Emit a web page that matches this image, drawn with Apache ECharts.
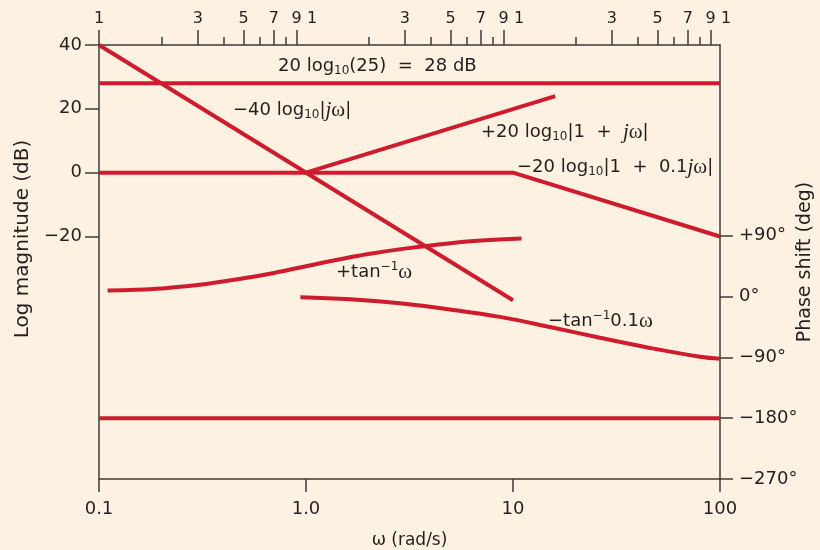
<!DOCTYPE html>
<html>
<head>
<meta charset="utf-8">
<script src="https://cdn.jsdelivr.net/npm/echarts@6/dist/echarts.min.js"></script>
<style>
html,body{margin:0;padding:0;background:#fdf1e2;}
#chart{width:820px;height:550px;}
</style>
</head>
<body>
<div id="chart"></div>
<script>
// ---- data (omega in rad/s, magnitude in dB, phase in degrees) ----
const magLine28 = [[0.1, 28], [100, 28]];
const magNeg40 = [[0.1, 40], [10, -40]];
const magPos20 = [[1, 0], [16, 24]];
const magNeg20 = [[0.1, 0], [10, 0], [100, -20]];
const phasePos = [[0.11, 9], [0.15, 10], [0.2, 12], [0.3, 17], [0.5, 27], [0.7, 35], [1, 45], [1.5, 56], [2, 63], [3, 71], [5, 79], [7, 83], [11, 86]];
const phaseNeg = [[0.94, -1], [1.63, -4], [2.84, -10], [4.96, -19], [8.66, -30], [15.1, -45], [26.3, -61], [45.9, -76], [80, -89], [100, -92]];
const phase180 = [[0.1, -180], [100, -180]];

// ---- ticks / labels ----
const magTicks = [40, 20, 0, -20];
const phaseTicks = [90, 0, -90, -180, -270];
const topTallTicks = [0.1, 0.3, 0.5, 0.7, 0.9, 3, 5, 7, 9, 30, 50, 70, 90];
const topShortTicks = [0.2, 0.4, 0.6, 0.8, 2, 4, 6, 8, 20, 40, 60, 80];
const topLabels = [0.1, 0.3, 0.5, 0.7, 0.9, 1, 3, 5, 7, 9, 10, 30, 50, 70, 90, 100];

const notes = [
  '{a|20 log}{s|10}{a|(25)  =  28 dB}',
  '{a|\u221240 log}{s|10}{a||}{j|j}{w|\u03c9}{a||}',
  '{a|+20 log}{s|10}{a||1  +  }{j|j}{w|\u03c9}{a||}',
  '{a|\u221220 log}{s|10}{a||1  +  0.1}{j|j}{w|\u03c9}{a||}',
  '{a|+tan}{p|\u22121}{w|\u03c9}',
  '{a|\u2212tan}{p|\u22121}{a|0.1}{w|\u03c9}'
];
const notePos = [[278, 66], [233, 110], [481, 132], [517, 167], [336, 272], [548, 321]];

const RED = '#cf1b2e';
const INK = '#231f20';
const AX = '#3c3a3a';
const SANS = 'DejaVu Sans, Liberation Sans, sans-serif';
const axLine = {show: true, onZero: false, lineStyle: {color: AX, width: 1.5}};
const tickStyle = {color: AX, width: 1.5};

const rich = {
  a: {fontFamily: SANS, fontSize: 18, lineHeight: 22, fill: INK},
  s: {fontFamily: SANS, fontSize: 12, lineHeight: 12, verticalAlign: 'bottom', fill: INK},
  p: {fontFamily: SANS, fontSize: 12, lineHeight: 12, verticalAlign: 'top', fill: INK},
  j: {fontFamily: 'Liberation Serif, serif', fontStyle: 'italic', fontSize: 21, lineHeight: 22, fill: INK},
  w: {fontFamily: 'Liberation Serif, serif', fontSize: 21, lineHeight: 22, fill: INK}
};

function mant(v) {
  const w = Math.pow(10, v);
  const e = Math.floor(v + 1e-9);
  return Math.round(w / Math.pow(10, e));
}

function lineSeries(data, yIdx, smooth) {
  return {
    type: 'line', data: data, xAxisIndex: 0, yAxisIndex: yIdx,
    showSymbol: false, smooth: smooth ? 0.4 : false,
    lineStyle: {color: RED, width: 4, cap: 'butt'}, silent: true
  };
}

const chart = echarts.init(document.getElementById('chart'), null, {renderer: 'canvas'});
const option = {
  backgroundColor: '#fdf1e2',
  animation: false,
  grid: {left: 99, right: 100, top: 45, bottom: 71, containLabel: false, outerBoundsMode: 'none'},
  xAxis: [
    {
      type: 'log', logBase: 10, min: 0.1, max: 100, position: 'bottom',
      axisLine: axLine,
      axisTick: {show: true, inside: false, length: 13, lineStyle: tickStyle},
      axisLabel: {color: INK, fontSize: 18, fontFamily: SANS, margin: 21,
        formatter: v => (Math.abs(v - 1) < 1e-9 ? '1.0' : String(v))},
      splitLine: {show: false}, minorTick: {show: false},
      name: '\u03c9 (rad/s)', nameLocation: 'middle', nameGap: 53, nameMoveOverlap: false,
      nameTextStyle: {color: INK, fontSize: 17, fontFamily: SANS}
    },
    {
      type: 'value', min: -1, max: 2, position: 'top', offset: 0,
      axisLine: axLine,
      axisTick: {show: true, length: 15, customValues: topTallTicks.map(Math.log10), lineStyle: tickStyle},
      axisLabel: {color: INK, fontSize: 16, fontFamily: SANS, margin: 18,
        customValues: topLabels.map(Math.log10),
        formatter: v => {
          const m = mant(v);
          return (m === 1 && v > -0.5) ? '{o|1}' : String(m);
        },
        rich: {o: {fontSize: 16, fontFamily: SANS, color: INK, padding: [0, 0, 0, 12]}}
      },
      splitLine: {show: false}
    },
    {
      type: 'value', min: -1, max: 2, position: 'top', offset: 0,
      axisLine: {show: false, onZero: false},
      axisTick: {show: true, length: 8, customValues: topShortTicks.map(Math.log10), lineStyle: tickStyle},
      axisLabel: {show: false},
      splitLine: {show: false}
    }
  ],
  yAxis: [
    {
      type: 'value', min: -96, max: 40, position: 'left', offset: 0,
      axisLine: axLine,
      axisTick: {show: true, length: 14, customValues: magTicks, lineStyle: tickStyle},
      axisLabel: {color: INK, fontSize: 18, fontFamily: SANS, margin: 17,
        customValues: magTicks,
        formatter: v => (v < 0 ? '\u2212' + (-v) : String(v))},
      splitLine: {show: false},
      name: 'Log magnitude (dB)', nameLocation: 'middle', nameGap: 66, nameMoveOverlap: false,
      nameTextStyle: {color: INK, fontSize: 20, fontFamily: SANS, padding: [0, 0, 0, 46]}
    },
    {
      type: 'value', min: -270, max: 372.4, position: 'right', offset: 0,
      axisLine: axLine,
      axisTick: {show: true, length: 13, customValues: phaseTicks, lineStyle: tickStyle},
      axisLabel: {color: INK, fontSize: 18, fontFamily: SANS, margin: 19,
        customValues: phaseTicks,
        formatter: v => (v > 0 ? '+' + v + '\u00b0' : v < 0 ? '\u2212' + (-v) + '\u00b0' : '0\u00b0')},
      splitLine: {show: false},
      name: 'Phase shift (deg)', nameLocation: 'middle', nameGap: 76, nameMoveOverlap: false,
      nameTextStyle: {color: INK, fontSize: 19, fontFamily: SANS}
    }
  ],
  series: [
    lineSeries(magLine28, 0, false),
    lineSeries(magNeg40, 0, false),
    lineSeries(magPos20, 0, false),
    lineSeries(magNeg20, 0, false),
    lineSeries(phasePos, 1, true),
    lineSeries(phaseNeg, 1, true),
    lineSeries(phase180, 1, false)
  ],
  graphic: notes.map((t, i) => ({
    type: 'text', x: notePos[i][0], y: notePos[i][1], silent: true,
    style: {text: t, rich: rich, align: 'left', verticalAlign: 'middle',
      fill: INK, fontSize: 18, fontFamily: SANS}
  }))
};
chart.setOption(option);
</script>
</body>
</html>
